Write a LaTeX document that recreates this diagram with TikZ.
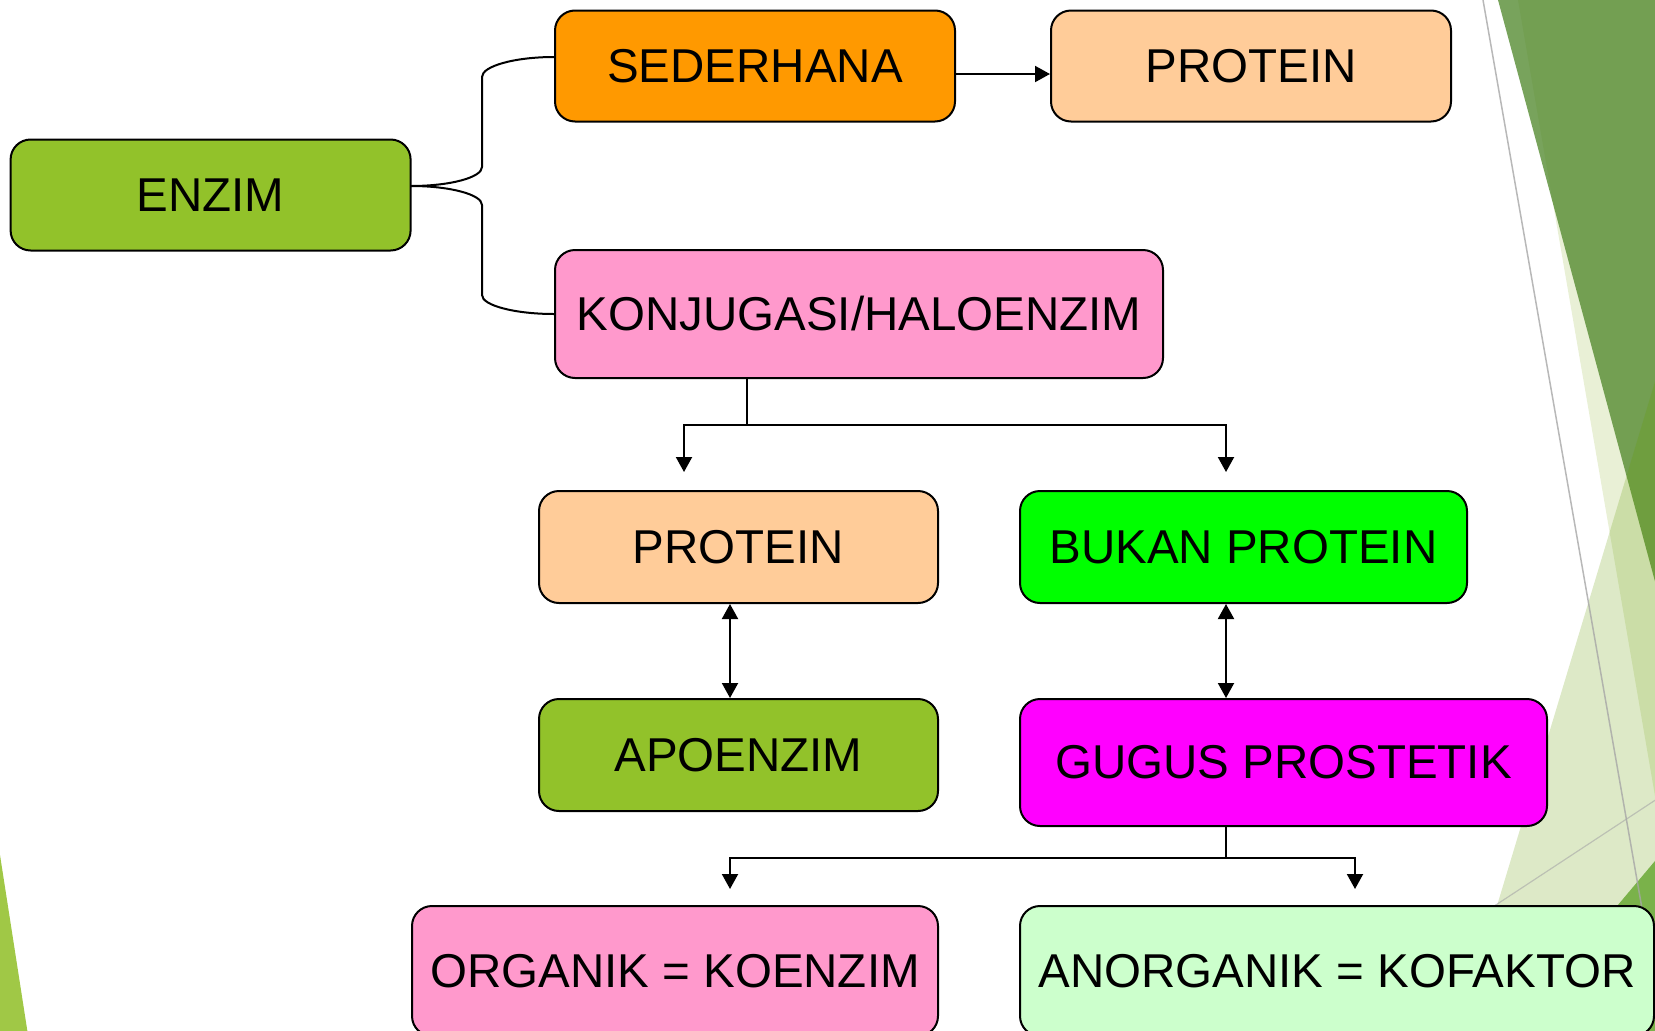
\documentclass[tikz,border=0pt]{standalone}
\usepackage{fontspec}
\setmainfont{Liberation Sans}
\usetikzlibrary{arrows.meta}

\definecolor{cGreen}{HTML}{92C22A}
\definecolor{cOrange}{HTML}{FF9900}
\definecolor{cPeach}{HTML}{FFCC99}
\definecolor{cPink}{HTML}{FF99CC}
\definecolor{cLime}{HTML}{00FF00}
\definecolor{cMagenta}{HTML}{FF00FF}
\definecolor{cMint}{HTML}{CCFFCC}
\definecolor{facetPale}{HTML}{E9F0D6}
\definecolor{facetDark}{HTML}{50872B}
\definecolor{facetLight}{HTML}{649B00}
\definecolor{facetMid}{HTML}{7AB24A}
\definecolor{facetLeft}{HTML}{A0C846}
\definecolor{facetLine}{HTML}{A6A6A6}

\tikzset{
  box/.style={draw=black, line width=2pt, rounded corners=20pt,
    font=\fontsize{47.5}{57}\selectfont, inner sep=0pt, align=center},
  link/.style={line width=2pt, draw=black},
  arr/.style={link, -{Triangle[width=16pt,length=15pt]}},
  dbl/.style={link, {Triangle[width=16pt,length=15pt]}-{Triangle[width=16pt,length=15pt]}}
}

\begin{document}
\begin{tikzpicture}[x=1pt,y=-1pt]
\useasboundingbox (0,0) rectangle (1655,1031);

% theme decoration: facets on the right edge and the sliver at the lower left
\fill[facetPale] (1518,0) -- (1660,0) -- (1660,825) -- cycle;
\fill[facetDark, fill opacity=0.77] (1498,0) -- (1660,0) -- (1660,600) -- cycle;
\fill[facetLight, fill opacity=0.22] (1660,365) -- (1455,1045) -- (1660,1045) -- cycle;
\fill[facetMid] (1660,855) -- (1500,1045) -- (1660,1045) -- cycle;
\draw[facetLine, line width=1.5pt, draw opacity=0.8] (1483,0) -- (1665,1040);
\draw[facetLine, line width=1.2pt, draw opacity=0.6] (1660,797) -- (1400,968);
\fill[facetLeft] (0,855) -- (28,1035) -- (0,1035) -- cycle;

% boxes
\node[box, fill=cGreen,   minimum width=400pt, minimum height=111pt] (enzim)     at (210.6,195)   {ENZIM};
\node[box, fill=cOrange,  minimum width=400pt, minimum height=111pt] (sederhana) at (755,66)      {SEDERHANA};
\node[box, fill=cPeach,   minimum width=400pt, minimum height=111pt] (proteinA)  at (1251,66)     {PROTEIN};
\node[box, fill=cPink,    minimum width=608pt, minimum height=128pt] (konjugasi) at (859,314)     {KONJUGASI/HALOENZIM};
\node[box, fill=cPeach,   minimum width=399pt, minimum height=112pt] (proteinB)  at (738.5,547)   {PROTEIN};
\node[box, fill=cLime,    minimum width=447pt, minimum height=112pt] (bukan)     at (1243.5,547)  {BUKAN PROTEIN};
\node[box, fill=cGreen,   minimum width=399pt, minimum height=112pt] (apoenzim)  at (738.5,755)   {APOENZIM};
\node[box, fill=cMagenta, minimum width=527pt, minimum height=127pt] (gugus)     at (1283.5,762.5){GUGUS PROSTETIK};
\node[box, fill=cPink,    minimum width=526pt, minimum height=130pt] (organik)   at (675,971)     {ORGANIK = KOENZIM};
\node[box, fill=cMint,    minimum width=634pt, minimum height=130pt] (anorganik) at (1337,971)    {ANORGANIK = KOFAKTOR};

% ENZIM branches into two kinds (brace with quarter-ellipse bends)
\coordinate (brace) at (411,186);
\draw[link] (brace) .. controls (450,186) and (482,177.5) .. (482,167) -- (482,77)
  .. controls (482,66) and (515,57) .. ([yshift=9pt]sederhana.west);
\draw[link] (brace) .. controls (450,186) and (482,194.5) .. (482,205) -- (482,295)
  .. controls (482,305.5) and (515,314) .. (konjugasi.west);
\draw[arr] ([yshift=-8pt]sederhana.east) -- ([yshift=-8pt]proteinA.west);

% conjugated enzyme splits into protein and non-protein parts
\coordinate (splitK) at (747,425);
\coordinate (tipK1) at (684,472);
\coordinate (tipK2) at (1226,472);
\draw[link] (konjugasi.south -| splitK) -- (splitK);
\draw[arr] (splitK) -| (tipK1);
\draw[arr] (splitK) -| (tipK2);

% equivalences
\draw[dbl] (proteinB.south -| 730,0) -- (apoenzim.north -| 730,0);
\draw[dbl] (bukan.south -| 1226,0) -- (gugus.north -| 1226,0);

% prosthetic group splits into organic and inorganic
\coordinate (splitG) at (1226,858);
\coordinate (tipG1) at (730,889);
\coordinate (tipG2) at (1355,889);
\draw[link] (gugus.south -| splitG) -- (splitG);
\draw[arr] (splitG) -| (tipG1);
\draw[arr] (splitG) -| (tipG2);
\end{tikzpicture}
\end{document}
